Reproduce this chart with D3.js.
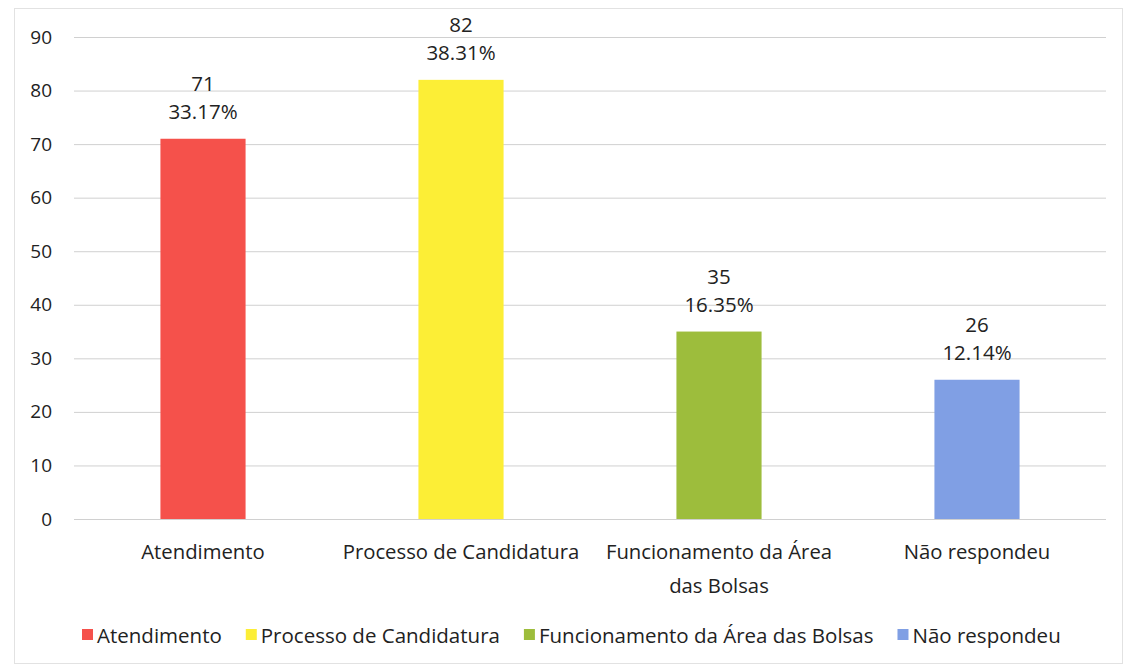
<!DOCTYPE html>
<html><head><meta charset="utf-8">
<script src="https://cdn.jsdelivr.net/npm/d3@7"></script>
<style>body{margin:0;background:#fff}svg{display:block}text{font-family:"Open Sans","Noto Sans",sans-serif;fill:#222}</style>
</head><body><svg id="c" width="1126" height="670"></svg>
<script>
const categories = ["Atendimento","Processo de Candidatura","Funcionamento da Área das Bolsas","Não respondeu"];
const categoryLines = [["Atendimento"],["Processo de Candidatura"],["Funcionamento da Área","das Bolsas"],["Não respondeu"]];
const values = [71, 82, 35, 26];
const percents = ["33.17%","38.31%","16.35%","12.14%"];
const colors = ["#f5514b","#fcee36","#9dbd3c","#809fe4"];
const yTicks = [0,10,20,30,40,50,60,70,80,90];

const svg = d3.select("#c");
const m = {l:74, r:1106, t:37, b:519};
svg.append("rect").attr("x",14.5).attr("y",8.5).attr("width",1108).attr("height",655).attr("fill","none").attr("stroke","#e2e2e2");
const x = d3.scaleBand().domain(categories).range([m.l,m.r]).paddingInner(0.67).paddingOuter(0.335);
const y = d3.scaleLinear().domain([0,90]).range([m.b,m.t]);

const gy = svg.append("g").attr("transform",`translate(${m.l},0)`)
  .call(d3.axisLeft(y).tickValues(yTicks).tickSize(-(m.r-m.l)).tickPadding(22));
gy.select(".domain").remove();
gy.selectAll(".tick line").attr("stroke","#d0d0d0");
gy.selectAll(".tick text").attr("font-size",19).style("fill","#222");

svg.selectAll(".bar").data(categories).enter().append("rect")
  .attr("x",d=>x(d)).attr("width",x.bandwidth())
  .attr("y",(d,i)=>y(values[i])).attr("height",(d,i)=>y(0)-y(values[i]))
  .attr("fill",(d,i)=>colors[i]);

categories.forEach((c,i)=>{
  const cx = x(c)+x.bandwidth()/2;
  svg.append("text").attr("x",cx).attr("y",y(values[i])-48).attr("text-anchor","middle").attr("font-size",20.5).text(values[i]);
  svg.append("text").attr("x",cx).attr("y",y(values[i])-20).attr("text-anchor","middle").attr("font-size",20.5).text(percents[i]);
  categoryLines[i].forEach((ln,j)=>{
    svg.append("text").attr("x",cx).attr("y",559+j*34).attr("text-anchor","middle").attr("font-size",20.3).text(ln);
  });
});

// legend
const lg = svg.append("g").attr("transform","translate(0,643)");
let lx = 82;
categories.forEach((c,i)=>{
  lg.append("rect").attr("x",lx).attr("y",-14).attr("width",11).attr("height",11).attr("fill",colors[i]);
  const t = lg.append("text").attr("x",lx+15).attr("y",0).attr("font-size",20.5).text(c);
  lx += 15 + t.node().getComputedTextLength() + 24;
});
</script></body></html>
